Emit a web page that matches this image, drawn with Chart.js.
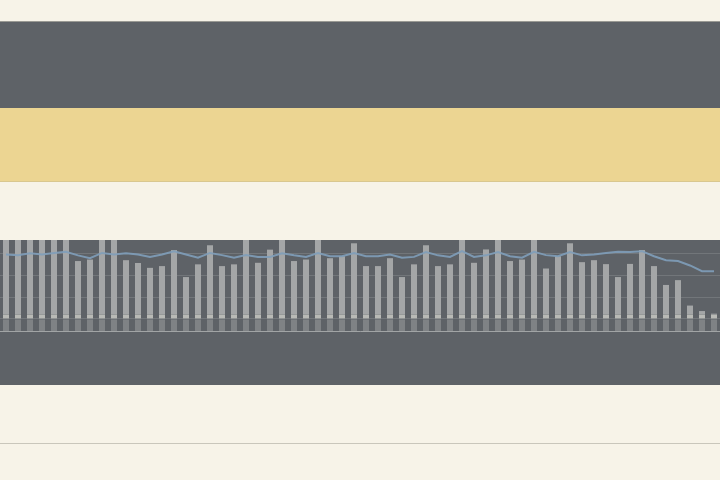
<!DOCTYPE html>
<html>
<head>
<meta charset="utf-8">
<script src="https://cdn.jsdelivr.net/npm/chart.js@4"></script>
<style>
  html, body { margin: 0; padding: 0; background: #f7f3e8; }
  #c { display: block; }
</style>
</head>
<body>
<canvas id="c" width="720" height="480"></canvas>
<script>
// ---- data ----
const categories = Array.from({length: 60}, (_, i) => String(i + 1));
const barTotals = [
  38, 38, 38, 38, 38, 38, 26.4, 27.1, 38, 37,
  26.8, 25.5, 23.3, 24.1, 31.4, 19.1, 24.9, 33.6, 24.1, 24.9,
  38, 25.6, 31.6, 38, 26.4, 27.1, 38, 27.7, 28.6, 34.5,
  24.1, 24.1, 27.7, 19.1, 24.9, 33.6, 24.1, 24.9, 38, 25.6,
  31.7, 38, 26.4, 27.1, 38, 23.0, 28.6, 34.5, 25.9, 26.8,
  25.0, 19.1, 25.1, 31.4, 24.1, 15.5, 17.7, 6.1, 3.6, 2.4
];
const lineValues = [
  29.4, 29.1, 29.9, 29.4, 30.1, 30.6, 29.0, 27.7, 30.1, 29.4,
  29.9, 29.4, 28.3, 29.4, 30.9, 29.4, 27.9, 30.1, 29.1, 27.9,
  29.1, 28.3, 28.3, 29.9, 29.0, 28.3, 30.1, 28.6, 28.6, 30.1,
  28.6, 28.6, 29.4, 27.9, 28.3, 30.5, 29.0, 28.3, 30.9, 28.3,
  29.0, 30.5, 28.6, 27.9, 30.6, 29.1, 28.6, 30.5, 29.0, 29.4,
  30.1, 30.6, 30.5, 30.9, 28.6, 26.8, 26.4, 24.4, 21.8, 21.8
];
const baseDepth = -5.5;   // lower (darker) part of each bar
const bandTop = 2;        // light band just above zero
const yMin = -5.5;
const yMax = 36;
const yStep = 10;

// ---- background stripes (decor) ----
const stripes = {
  id: 'stripes',
  beforeDraw(chart) {
    const ctx = chart.ctx;
    ctx.save();
    ctx.fillStyle = '#f7f3e8'; ctx.fillRect(0, 0, 720, 480);
    ctx.fillStyle = '#5e6267'; ctx.fillRect(0, 21, 720, 87);
    ctx.fillStyle = '#9a9a94'; ctx.fillRect(0, 21, 720, 1);
    ctx.fillStyle = '#ecd592'; ctx.fillRect(0, 108, 720, 74);
    ctx.fillStyle = '#d9c78f'; ctx.fillRect(0, 181, 720, 1);
    ctx.fillStyle = '#5e6267'; ctx.fillRect(0, 240, 720, 145);
    ctx.fillStyle = '#c9c6bb'; ctx.fillRect(0, 443, 720, 1);
    ctx.restore();
  }
};

new Chart(document.getElementById('c'), {
  data: {
    labels: categories,
    datasets: [
      {
        type: 'line',
        data: lineValues,
        borderColor: 'rgba(128,158,186,0.9)',
        borderWidth: 2,
        pointRadius: 0,
        tension: 0,
        order: 0
      },
      {
        type: 'bar',
        data: barTotals.map(v => [bandTop, v]),
        backgroundColor: '#a4a6a7',
        grouped: false,
        order: 1
      },
      {
        type: 'bar',
        data: barTotals.map(v => [0, Math.min(bandTop, v)]),
        backgroundColor: '#b9bab6',
        grouped: false,
        order: 2
      },
      {
        type: 'bar',
        data: barTotals.map(() => [baseDepth, 0]),
        backgroundColor: '#7f8285',
        grouped: false,
        order: 3
      }
    ]
  },
  options: {
    responsive: false,
    devicePixelRatio: 1,
    animation: false,
    events: [],
    layout: { padding: { top: 240, bottom: 149, left: 0, right: 0 } },
    datasets: { bar: { barPercentage: 0.5, categoryPercentage: 1 } },
    plugins: { legend: { display: false }, tooltip: { enabled: false }, title: { display: false } },
    scales: {
      x: {
        ticks: { display: false },
        grid: { display: false, drawTicks: false },
        border: { display: true, color: 'rgba(190,192,192,0.7)', dash: [3, 3], width: 1 }
      },
      y: {
        min: yMin,
        max: yMax,
        ticks: { display: false, stepSize: yStep, includeBounds: false },
        grid: { color: 'rgba(255,255,255,0.13)', drawTicks: false, lineWidth: 1 },
        border: { display: false }
      }
    }
  },
  plugins: [stripes]
});
</script>
</body>
</html>
